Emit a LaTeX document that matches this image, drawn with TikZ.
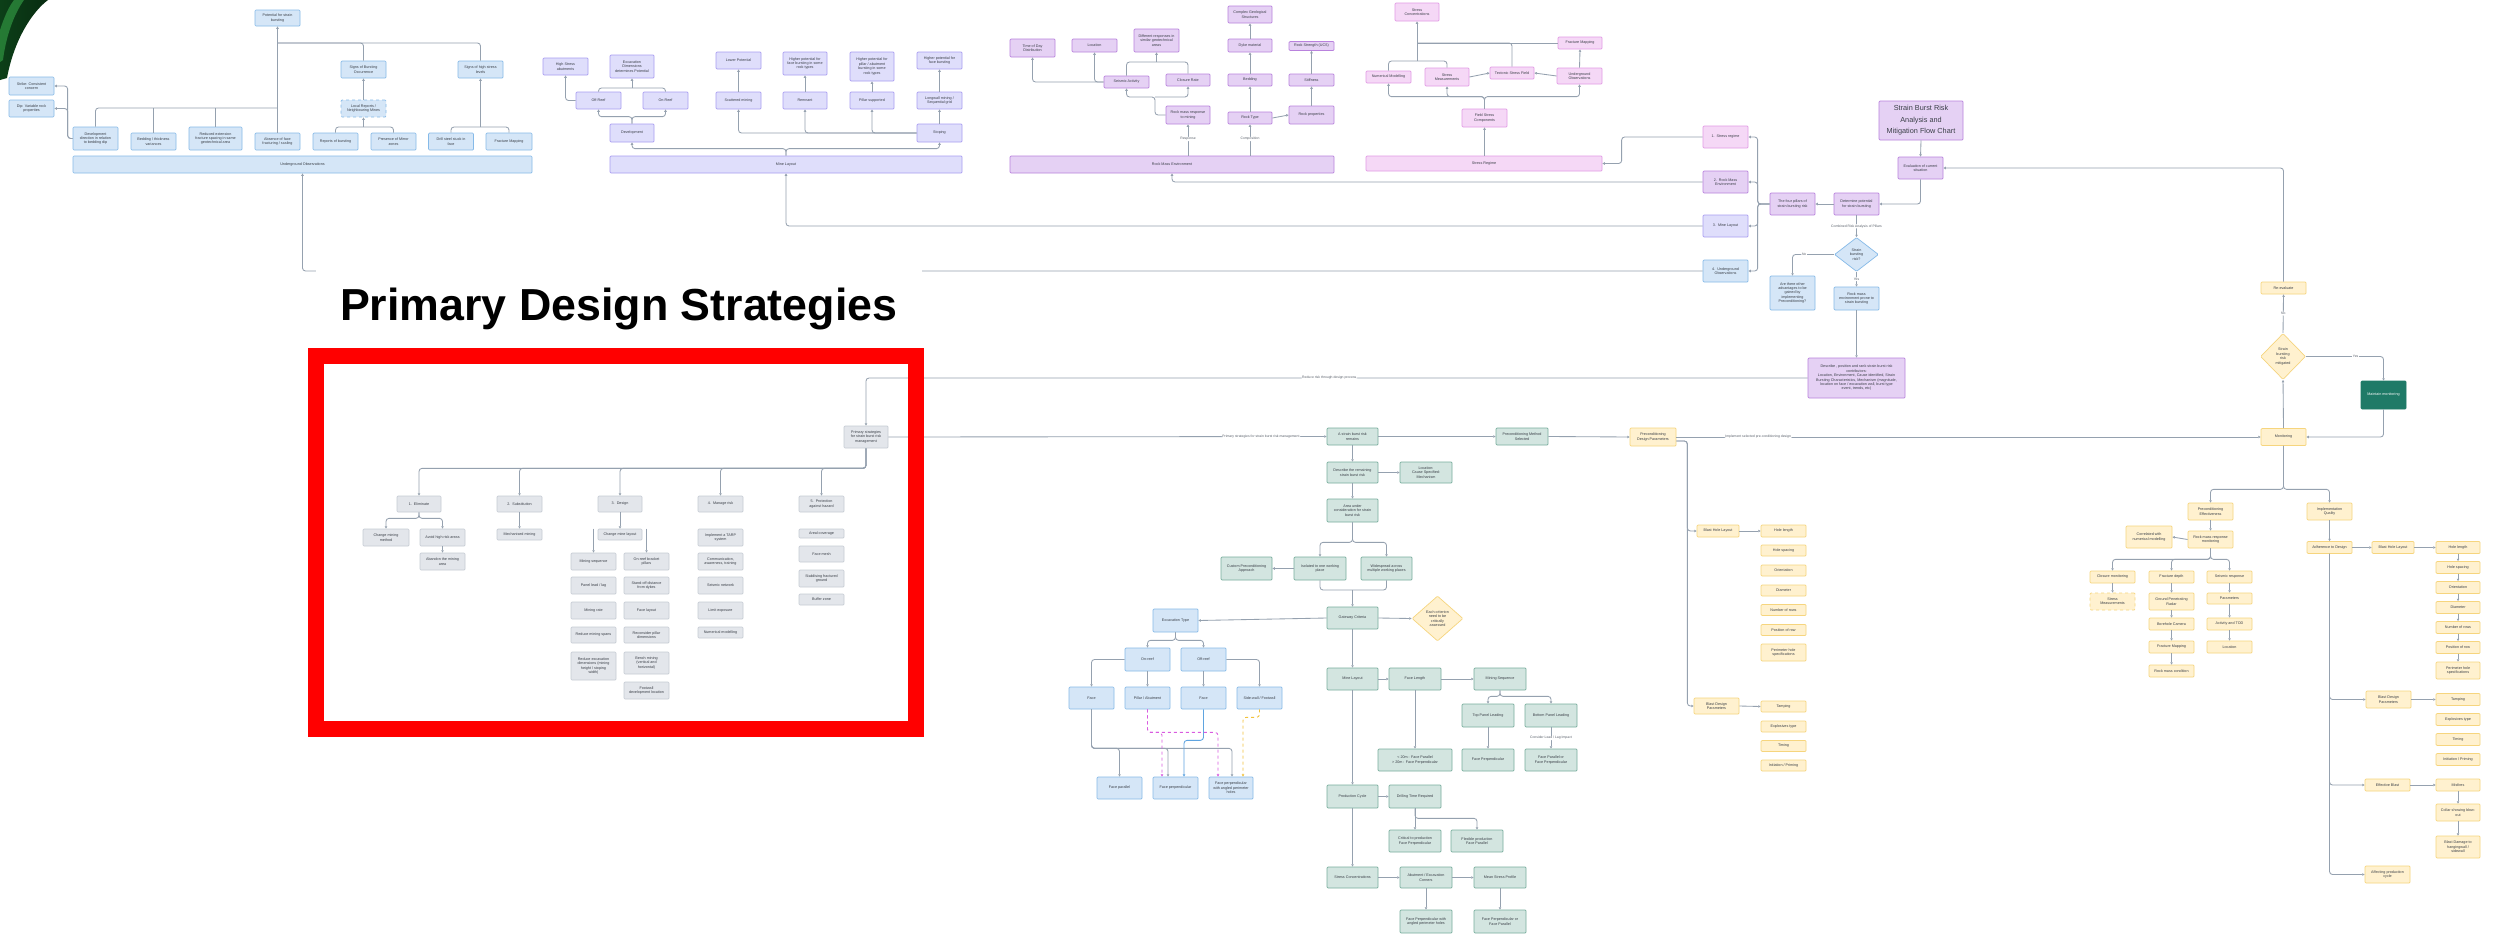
\documentclass[tikz,border=0pt]{standalone}
\usepackage{fontspec}
\setmainfont{Liberation Sans}
\usetikzlibrary{arrows.meta,shapes.geometric,calc}
\definecolor{lineC}{HTML}{95A1AF}
\definecolor{txtC}{HTML}{3A3F47}
\definecolor{lblC}{HTML}{5A616B}
\definecolor{bluF}{HTML}{D5E6F7}
\definecolor{bluD}{HTML}{86BAE8}
\definecolor{lavF}{HTML}{DFDEFB}
\definecolor{lavD}{HTML}{A99DF1}
\definecolor{purF}{HTML}{E5D1F4}
\definecolor{purD}{HTML}{B982DD}
\definecolor{pnkF}{HTML}{F5D8F6}
\definecolor{pnkD}{HTML}{E29BE5}
\definecolor{grnF}{HTML}{D3E5E0}
\definecolor{grnD}{HTML}{78AE9D}
\definecolor{ylwF}{HTML}{FFF1CF}
\definecolor{ylwD}{HTML}{F6D57E}
\definecolor{gryF}{HTML}{E3E6EB}
\definecolor{gryD}{HTML}{C6CCD4}
\definecolor{dkgrn}{HTML}{1F7A67}
\definecolor{leafD}{HTML}{0C3F18}
\definecolor{leafL}{HTML}{2C8A3C}
\definecolor{magC}{HTML}{D95BE0}
\definecolor{bluLine}{HTML}{5FA4E0}
\definecolor{ylwLine}{HTML}{F2C23C}
\newcommand\bxfont{\fontsize{3.7}{4.4}\selectfont}
\newcommand\lblfont{\fontsize{3.4}{4}\selectfont}
\begin{document}
\begin{tikzpicture}[x=1pt,y=-1pt,
  base/.style={draw, rounded corners=1pt, line width=0.7pt, align=center, inner sep=0.5pt, font=\bxfont, text=txtC},
  bx/.style n args={2}{base, minimum width=#1pt, minimum height=#2pt},
  dia/.style n args={2}{base, shape=diamond, minimum width=#1pt, minimum height=#2pt, inner sep=0pt},
  blu/.style={fill=bluF, draw=bluD},
  lav/.style={fill=lavF, draw=lavD},
  pur/.style={fill=purF, draw=purD},
  pnk/.style={fill=pnkF, draw=pnkD},
  grn/.style={fill=grnF, draw=grnD},
  ylw/.style={fill=ylwF, draw=ylwD},
  gry/.style={fill=gryF, draw=gryD},
  ln/.style={draw=lineC, line width=0.85pt, rounded corners=3pt},
  arr/.style={ln, -{Triangle[length=2.4pt,width=2.4pt]}},
  lbl/.style={font=\lblfont, fill=white, inner sep=0.6pt, text=lblC},
]
\useasboundingbox (0,0) rectangle (2494,937);
\fill[white] (0,0) rectangle (2494,937);

% corner leaf graphic
\shade[left color=leafD, right color=leafD!70!black] (0,0) -- (48,0) .. controls (32,12) and (14,40) .. (7,78) -- (0,80) -- cycle;
\fill[leafL, opacity=0.8] (14,0) -- (24,0) .. controls (14,14) and (6,36) .. (3,60) -- (0,62) -- (0,30) .. controls (4,18) and (8,8) .. (14,0) -- cycle;

% ---------------- Underground observations ----------------
\node[bx={45}{16},blu] (pot) at (277.5,18) {Potential for strain\\bursting};
\node[bx={45}{17},blu] (sbo) at (363.5,69.5) {Signs of Bursting\\Occurrence};
\node[bx={45}{17},blu] (shs) at (480.5,69.5) {Signs of high stress\\levels};
\node[bx={45}{17},blu,dashed] (lrn) at (363.5,108.5) {Local Reports /\\Neighbouring Mines};
\node[bx={45}{18},blu] (strike) at (31.5,86) {Strike: Consistent\\concern};
\node[bx={45}{17},blu] (dip) at (31.5,108.5) {Dip: Variable rock\\properties};
\node[bx={45}{23},blu] (devdir) at (95.5,138.5) {Development\\direction in relation\\to bedding dip};
\node[bx={45}{17},blu] (bedth) at (153.5,141.5) {Bedding / thickness\\variances};
\node[bx={53}{23},blu] (redext) at (215.5,138.5) {Reduced extension\\fracture spacing in same\\geotechnical area};
\node[bx={45}{17},blu] (absf) at (277.5,141.5) {Absence of face\\fracturing / scaling};
\node[bx={45}{17},blu] (repb) at (335.5,141.5) {Reports of bursting};
\node[bx={45}{17},blu] (mirr) at (393.5,141.5) {Presence of Mirror\\zones};
\node[bx={45}{17},blu] (dss) at (451,141.5) {Drill steel stuck in\\face};
\node[bx={46}{17},blu] (fmapA) at (509,141.5) {Fracture Mapping};
\node[bx={459}{17},blu] (uobs) at (302.5,164.5) {Underground Observations};

% ---------------- Mine layout ----------------
\node[bx={45}{17},lav] (hsa) at (565.5,66.5) {High Stress\\abutments};
\node[bx={44}{23},lav] (edp) at (632,66.5) {Excavation\\Dimensions\\determines Potential};
\node[bx={45}{17},lav] (offr) at (598.5,100.5) {Off-Reef};
\node[bx={45}{17},lav] (onr) at (665.5,100.5) {On-Reef};
\node[bx={44}{18},lav] (devB) at (632,133) {Development};
\node[bx={352}{17},lav] (ml) at (786,164.5) {Mine Layout};
\node[bx={45}{17},lav] (lp) at (738.5,60.5) {Lower Potential};
\node[bx={44}{23},lav] (hpf) at (805,63.5) {Higher potential for\\face bursting in some\\rock types};
\node[bx={44}{29},lav] (hpp) at (872,66.5) {Higher potential for\\pillar / abutment\\bursting in some\\rock types};
\node[bx={45}{17},lav] (hpfb) at (939.5,60.5) {Higher potential for\\face bursting};
\node[bx={45}{17},lav] (scat) at (738.5,100.5) {Scattered mining};
\node[bx={44}{17},lav] (remn) at (805,100.5) {Remnant};
\node[bx={44}{17},lav] (pill) at (872,100.5) {Pillar supported};
\node[bx={45}{17},lav] (lw) at (939.5,100.5) {Longwall mining /\\Sequential grid};
\node[bx={45}{18},lav] (stp) at (939.5,133) {Stoping};

% ---------------- Rock mass environment ----------------
\node[bx={45}{18},pur] (tod) at (1032.5,48) {Time of Day\\Distribution};
\node[bx={45}{13},pur] (locR) at (1094.5,45.5) {Location};
\node[bx={45}{23},pur] (difr) at (1156.5,40.5) {Different responses in\\similar geotechnical\\areas};
\node[bx={45}{12},pur] (seis) at (1126.5,82) {Seismic Activity};
\node[bx={44}{12},pur] (clos) at (1188,80) {Closure Rate};
\node[bx={44}{18},pur] (rmr) at (1188,115) {Rock mass response\\to mining};
\node[bx={324}{17},pur] (rme) at (1172,164.5) {Rock Mass Environment};
\node[bx={44}{17},pur] (cgs) at (1250,14.5) {Complex Geological\\Structures};
\node[bx={44}{13},pur] (dyke) at (1250,45.5) {Dyke material};
\node[bx={44}{12},pur] (bedd) at (1250,80) {Bedding};
\node[bx={44}{12},pur] (rtype) at (1250,118) {Rock Type};
\node[bx={45}{9},pur] (ucs) at (1311.5,46) {Rock Strength (UCS)};
\node[bx={45}{12},pur] (stiff) at (1311.5,80) {Stiffness};
\node[bx={45}{18},pur] (rprop) at (1311.5,115) {Rock properties};

% ---------------- Stress regime ----------------
\node[bx={44}{18},pnk] (scS) at (1417,12) {Stress\\Concentrations};
\node[bx={44}{12},pnk] (fmS) at (1580,43) {Fracture Mapping};
\node[bx={45}{12},pnk] (nmS) at (1388.5,77) {Numerical Modelling};
\node[bx={44}{18},pnk] (smS) at (1447,77) {Stress\\Measurements};
\node[bx={44}{12},pnk] (tsf) at (1512,73) {Tectonic Stress Field};
\node[bx={45}{16},pnk] (uoS) at (1579.5,76) {Underground\\Observations};
\node[bx={45}{18},pnk] (fsc) at (1484.5,118) {Field Stress\\Components};
\node[bx={236}{15},pnk] (sreg) at (1484,163.5) {Stress Regime};

% ---------------- Main flow ----------------
\node[bx={84}{39},pur,font=\fontsize{7.3}{11.5}\selectfont] (ttlbox) at (1921,120.5) {Strain Burst Risk\\Analysis and\\Mitigation Flow Chart};
\node[bx={45}{22},pur] (evl) at (1920.5,168) {Evaluation of current\\situation};
\node[bx={45}{22},pur] (det) at (1856.5,204) {Determine potential\\for strain bursting};
\node[bx={45}{22},pur] (fp) at (1792.5,204) {The four pillars of\\strain bursting risk};
\node[bx={45}{22},pnk] (p1) at (1725.5,137) {1.\ \ Stress regime};
\node[bx={45}{22},pur] (p2) at (1725.5,182) {2.\ \ Rock Mass\\Environment};
\node[bx={45}{22},lav] (p3) at (1725.5,226) {3.\ \ Mine Layout};
\node[bx={45}{22},blu] (p4) at (1725.5,271) {4.\ \ Underground\\Observations};
\node[dia={44}{34},blu] (dia1) at (1856.5,254.5) {Strain\\bursting\\risk?};
\node[bx={45}{34},blu] (adv) at (1792.5,293) {Are there other\\advantages to be\\gained by\\implementing\\Preconditioning?};
\node[bx={45}{23},blu] (prone) at (1856.5,298.5) {Rock mass\\environment prone to\\strain bursting};
\node[bx={97}{40},pur] (desc) at (1856.5,378) {Describe , position and rank strain burst risk\\contributors:\\Location, Environment, Cause identified, Strain\\Bursting Characteristics, Mechanism (magnitude,\\location on face / excavation wall, burst type\\event, trends, etc)};
\node[bx={45}{12},ylw] (reev) at (2283.5,288) {Re-evaluate};
\node[dia={45}{46},ylw] (dia2) at (2283,356.5) {Strain\\bursting\\risk\\mitigated};
\node[bx={45}{28},fill=dkgrn,draw=dkgrn,text=white] (mmon) at (2383.5,395) {Maintain monitoring};
\node[bx={45}{17},ylw] (mon) at (2283.5,437) {Monitoring};

% ---------------- Primary strategies ----------------
\node[bx={44}{22},gry] (pss) at (866,437) {Primary strategies\\for strain burst risk\\management};
\node[bx={44}{16},gry] (elim) at (419,504) {1.\ \ Eliminate};
\node[bx={45}{16},gry] (subs) at (519.5,504) {2.\ \ Substitution};
\node[bx={44}{16},gry] (desg) at (620,504) {3.\ \ Design};
\node[bx={45}{16},gry] (mgr) at (720.5,504) {4.\ \ Manage risk};
\node[bx={45}{16},gry] (prot) at (821.5,504) {5.\ \ Protection\\against hazard};
\node[bx={46}{17},gry] (cmm) at (386,537.5) {Change mining\\method};
\node[bx={45}{17},gry] (ahr) at (442.5,537.5) {Avoid high risk areas};
\node[bx={45}{17},gry] (atm) at (442.5,561.5) {Abandon the mining\\area};
\node[bx={45}{11},gry] (mech) at (519.5,534.5) {Mechanised mining};
\node[bx={44}{11},gry] (cml) at (620,534.5) {Change mine layout};
\node[bx={45}{17},gry] (msq) at (593.5,561.5) {Mining sequence};
\node[bx={45}{17},gry] (pll) at (593.5,585.5) {Panel lead / lag};
\node[bx={45}{17},gry] (mrate) at (593.5,610.5) {Mining rate};
\node[bx={45}{16},gry] (rms) at (593.5,635) {Reduce mining spans};
\node[bx={45}{28},gry] (rexd) at (593.5,666) {Reduce excavation\\dimensions (mining\\height / stoping\\width)};
\node[bx={45}{17},gry] (orbp) at (646.5,561.5) {On-reef bracket\\pillars};
\node[bx={45}{17},gry] (sod) at (646.5,585.5) {Stand-off distance\\from dykes};
\node[bx={45}{17},gry] (flay) at (646.5,610.5) {Face layout};
\node[bx={45}{16},gry] (rpd) at (646.5,635) {Reconsider pillar\\dimensions};
\node[bx={45}{22},gry] (bmin) at (646.5,663) {Bench mining\\(vertical and\\horizontal)};
\node[bx={45}{17},gry] (fdl) at (646.5,690.5) {Footwall\\development location};
\node[bx={45}{17},gry] (tarp) at (720.5,537.5) {Implement a TARP\\system};
\node[bx={45}{17},gry] (caw) at (720.5,561.5) {Communication,\\awareness, training};
\node[bx={45}{17},gry] (snet) at (720.5,585.5) {Seismic network};
\node[bx={45}{17},gry] (lexp) at (720.5,610.5) {Limit exposure};
\node[bx={45}{11},gry] (nmod) at (720.5,632.5) {Numerical modelling};
\node[bx={45}{9},gry] (arcov) at (821.5,533.5) {Areal coverage};
\node[bx={45}{16},gry] (fmesh) at (821.5,554) {Face mesh};
\node[bx={45}{17},gry] (sfg) at (821.5,578.5) {Stabilising fractured\\ground};
\node[bx={45}{11},gry] (bufz) at (821.5,599.5) {Buffer zone};

% ---------------- Residual risk assessment ----------------
\node[bx={51}{17},grn] (asb) at (1352.5,436.5) {A strain burst risk\\remains};
\node[bx={52}{17},grn] (pms) at (1522,436.5) {Preconditioning Method\\Selected};
\node[bx={46}{18},ylw] (pdp) at (1653,437) {Preconditioning\\Design Parameters};
\node[bx={51}{21},grn] (drs) at (1352.5,472.5) {Describe the remaining\\strain burst risk};
\node[bx={52}{21},grn] (lcm) at (1426,472.5) {Location:\\Cause Specified:\\Mechanism};
\node[bx={51}{23},grn] (auc) at (1352.5,510.5) {Area under\\consideration for strain\\burst risk};
\node[bx={52}{23},grn] (iso) at (1320,568.5) {Isolated to one working\\place};
\node[bx={51}{23},grn] (wide) at (1386.5,568.5) {Widespread across\\multiple working places};
\node[bx={51}{23},grn] (cust) at (1246.5,568.5) {Custom Preconditioning\\Approach};
\node[bx={51}{22},grn] (gc) at (1352.5,618) {Gateway Criteria};
\node[dia={51}{45},ylw] (ecd) at (1437.5,618.5) {Each criterion\\need to be\\critically\\assessed};
\node[bx={51}{22},grn] (mlG) at (1352.5,679) {Mine Layout};
\node[bx={52}{22},grn] (flen) at (1415,679) {Face Length};
\node[bx={52}{22},grn] (mseq) at (1500,679) {Mining Sequence};
\node[bx={52}{23},grn] (tpl) at (1488,715.5) {Top Panel Leading};
\node[bx={52}{23},grn] (bpl) at (1551,715.5) {Bottom Panel Leading};
\node[bx={74}{22},grn] (lt20) at (1415,760) {< 20m : Face Parallel\\> 20m : Face Perpendicular};
\node[bx={52}{22},grn] (fpp) at (1488,760) {Face Perpendicular};
\node[bx={52}{22},grn] (fpo) at (1551,760) {Face Parallel or\\Face Perpendicular};
\node[bx={51}{23},grn] (pcyc) at (1352.5,796.5) {Production Cycle};
\node[bx={52}{23},grn] (dtr) at (1415,796.5) {Drilling Time Required};
\node[bx={52}{22},grn] (cpf) at (1415,841) {Critical to production\\Face Perpendicular};
\node[bx={52}{22},grn] (fpf) at (1477,841) {Flexible production\\Face Parallel};
\node[bx={51}{21},grn] (scG) at (1352.5,877.5) {Stress Concentrations};
\node[bx={52}{21},grn] (aec) at (1426,877.5) {Abutment / Excavation\\Corners};
\node[bx={52}{21},grn] (msp) at (1500,877.5) {Mean Stress Profile};
\node[bx={52}{23},grn] (fpa) at (1426,921.5) {Face Perpendicular with\\angled perimeter holes};
\node[bx={52}{23},grn] (fpop) at (1500,921.5) {Face Perpendicular or\\Face Parallel};

% ---------------- Excavation type ----------------
\node[bx={45}{23},blu] (etyp) at (1175.5,620.5) {Excavation Type};
\node[bx={45}{23},blu] (onrf) at (1147.5,659.5) {On-reef};
\node[bx={45}{23},blu] (offrf) at (1203.5,659.5) {Off-reef};
\node[bx={45}{22},blu] (face1) at (1091.5,698) {Face};
\node[bx={45}{22},blu] (pabt) at (1147.5,698) {Pillar / Abutment};
\node[bx={45}{22},blu] (face2) at (1203.5,698) {Face};
\node[bx={45}{22},blu] (swf) at (1259.5,698) {Side-wall / Footwall};
\node[bx={45}{22},blu] (fpar) at (1119.5,788) {Face parallel};
\node[bx={45}{22},blu] (fperp) at (1175.5,788) {Face perpendicular};
\node[bx={44}{22},blu] (fang) at (1231,788) {Face perpendicular\\with angled perimeter\\holes};

% ---------------- Preconditioning design parameters ----------------
\node[bx={42}{12},ylw] (bhl) at (1718,531) {Blast Hole Layout};
\node[bx={45}{12},ylw] (hl1) at (1783.5,531) {Hole length};
\node[bx={45}{11},ylw] (hs1) at (1783.5,550.5) {Hole spacing};
\node[bx={45}{11},ylw] (or1) at (1783.5,570.5) {Orientation};
\node[bx={45}{11},ylw] (di1) at (1783.5,590.5) {Diameter};
\node[bx={45}{11},ylw] (nr1) at (1783.5,610) {Number of rows};
\node[bx={45}{11},ylw] (pr1) at (1783.5,630) {Position of row};
\node[bx={45}{17},ylw] (ph1) at (1783.5,652.5) {Perimeter hole\\specifications};
\node[bx={45}{16},ylw] (bdp) at (1716.5,706) {Blast Design\\Parameters};
\node[bx={45}{11},ylw] (tp1) at (1783.5,706.5) {Tamping};
\node[bx={45}{11},ylw] (ex1) at (1783.5,726.5) {Explosives type};
\node[bx={45}{11},ylw] (ti1) at (1783.5,746) {Timing};
\node[bx={45}{11},ylw] (ip1) at (1783.5,765.5) {Initiation / Priming};

% ---------------- Monitoring ----------------
\node[bx={45}{17},ylw] (peff) at (2210.5,511.5) {Preconditioning\\Effectiveness};
\node[bx={45}{17},ylw] (iqual) at (2329.5,511.5) {Implementation\\Quality};
\node[bx={45}{17},ylw] (rmrm) at (2210.5,539.5) {Rock mass response\\monitoring};
\node[bx={46}{22},ylw] (cnm) at (2149,537) {Correlated with\\numerical modelling};
\node[bx={45}{12},ylw] (clm) at (2112.5,577) {Closure monitoring};
\node[bx={45}{12},ylw] (frd) at (2171.5,577) {Fracture depth};
\node[bx={45}{12},ylw] (sres) at (2229.5,577) {Seismic response};
\node[bx={45}{17},ylw,dashed] (smD) at (2112.5,601.5) {Stress\\Measurements};
\node[bx={45}{17},ylw] (gpr) at (2171.5,601.5) {Ground Penetrating\\Radar};
\node[bx={45}{11},ylw] (parm) at (2229.5,598.5) {Parameters};
\node[bx={45}{12},ylw] (bcam) at (2171.5,624) {Borehole Camera};
\node[bx={45}{12},ylw] (atod) at (2229.5,624) {Activity and TOD};
\node[bx={45}{12},ylw] (fmY) at (2171.5,647) {Fracture Mapping};
\node[bx={45}{12},ylw] (locY) at (2229.5,647) {Location};
\node[bx={45}{12},ylw] (rmc) at (2171.5,671) {Rock mass condition};
\node[bx={45}{12},ylw] (atd) at (2329.5,547.5) {Adherence to Design};
\node[bx={42}{12},ylw] (bhl2) at (2393,547.5) {Blast Hole Layout};
\node[bx={44}{12},ylw] (hl2) at (2458,547.5) {Hole length};
\node[bx={44}{12},ylw] (hs2) at (2458,567.5) {Hole spacing};
\node[bx={44}{12},ylw] (or2) at (2458,587.5) {Orientation};
\node[bx={44}{12},ylw] (di2) at (2458,607.5) {Diameter};
\node[bx={44}{12},ylw] (nr2) at (2458,627.5) {Number of rows};
\node[bx={44}{12},ylw] (pr2) at (2458,647.5) {Position of row};
\node[bx={44}{17},ylw] (ph2) at (2458,670.5) {Perimeter hole\\specifications};
\node[bx={45}{17},ylw] (bdp2) at (2388.5,699.5) {Blast Design\\Parameters};
\node[bx={44}{12},ylw] (tp2) at (2458,699.5) {Tamping};
\node[bx={44}{12},ylw] (ex2) at (2458,719.5) {Explosives type};
\node[bx={44}{12},ylw] (ti2) at (2458,739.5) {Timing};
\node[bx={44}{12},ylw] (ip2) at (2458,759.5) {Initiation / Priming};
\node[bx={45}{12},ylw] (eblast) at (2387.5,785) {Effective Blast};
\node[bx={44}{12},ylw] (misf) at (2458,785) {Misfires};
\node[bx={44}{17},ylw] (csb) at (2458,812.5) {Collar showing blow-\\out};
\node[bx={44}{22},ylw] (bdh) at (2458,847) {Blast Damage to\\hangingwall /\\sidewall};
\node[bx={45}{17},ylw] (apc) at (2387.5,874.5) {Affecting production\\cycle};

% ================= connectors =================
% underground observations
\draw[arr] (absf.north) -- (pot.south);
\coordinate (busA) at (277.5,108);
\draw[ln] (devdir.north) |- (busA);
\draw[ln] (bedth.north) -- (bedth.north |- busA);
\draw[ln] (redext.north) -- (redext.north |- busA);
\coordinate (busT) at (277.5,43);
\draw[ln] (sbo.north) |- (busT);
\draw[ln] (shs.north) |- (busT);
\draw[arr] (lrn.north) -- (sbo.south);
\coordinate (brkR) at (363.5,127);
\draw[ln] (repb.north) |- (brkR) -| (mirr.north);
\draw[arr] (brkR) -- (lrn.south);
\coordinate (brkH) at (480.5,127);
\draw[ln] (dss.north) |- (brkH) -| (fmapA.north);
\draw[arr] (brkH) -- (shs.south);
\draw[arr] (devdir.west) -- ++(-5,0) |- (strike.east);
\draw[arr] (devdir.west) -- ++(-5,0) |- (dip.east);

% mine layout
\draw[arr] (ml.north) -- ++(0,-7) -| (devB.south);
\draw[arr] (ml.north) -- ++(0,-7) -| (stp.south);
\draw[arr] (stp.west) -| (scat.south);
\draw[arr] (stp.west) -| (remn.south);
\draw[arr] (stp.west) -| (pill.south);
\draw[arr] (scat.north) -- (lp.south);
\draw[arr] (remn.north) -- (hpf.south);
\draw[arr] (pill.north) -- (hpp.south);
\draw[arr] (stp.north) -- (lw.south);
\draw[arr] (lw.north) -- (hpfb.south);
\draw[arr] (devB.north) -- ++(0,-7) -| (offr.south);
\draw[arr] (devB.north) -- ++(0,-7) -| (onr.south);
\coordinate (brkE) at (632,88);
\draw[ln] (offr.north) |- (brkE) -| (onr.north);
\draw[arr] (brkE) -- (edp.south);
\draw[arr] (offr.west) -| (hsa.south);

% rock mass environment
\draw[arr] (rmr.south |- rme.north) -- node[lbl,pos=0.53]{Response} (rmr.south);
\draw[arr] (rtype.south |- rme.north) -- node[lbl,pos=0.53]{Composition} (rtype.south);
\coordinate (brkC) at (1155,97);
\draw[arr] (rmr.west) -| (brkC) -| (seis.south);
\draw[arr] (brkC) -| (clos.south);
\coordinate (brkD) at (1156.5,62);
\draw[ln] (seis.north) |- (brkD) -| (clos.north);
\draw[arr] (brkD) -- (difr.south);
\draw[arr] (seis.west) -| (tod.south);
\draw[arr] (seis.west) -| (locR.south);
\draw[arr] (rtype.north) -- (bedd.south);
\draw[arr] (bedd.north) -- (dyke.south);
\draw[arr] (dyke.north) -- (cgs.south);
\draw[arr] (rtype.east) -- (rprop.west);
\draw[arr] (rprop.north) -- (stiff.south);
\draw[arr] (stiff.north) -- (ucs.south);

% stress regime
\draw[arr] (sreg.north -| fsc.south) -- (fsc.south);
\draw[arr] (fsc.north) -- ++(0,-12) -| (nmS.south);
\draw[arr] (fsc.north) -- ++(0,-12) -| (smS.south);
\draw[arr] (fsc.north) -- ++(0,-12) -| (uoS.south);
\draw[arr] (smS.east) -- (tsf.west);
\draw[arr] (uoS.west) -- (tsf.east);
\draw[arr] (uoS.north) -- (fmS.south);
\coordinate (brkSC) at (1417,61);
\coordinate (jSC) at (1417,43);
\draw[ln] (nmS.north) |- (brkSC) -| (smS.north);
\draw[arr] (brkSC) -- (scS.south);
\draw[ln] (tsf.north) |- (jSC);
\draw[ln] (fmS.west) -- (jSC);

% main flow
\draw[arr] (ttlbox.south) -- (evl.north);
\draw[arr] (evl.south) |- (det.east);
\draw[arr] (det.west) -- (fp.east);
\foreach \p in {p1,p2,p3,p4} \draw[arr] (fp.west) -- ++(-12,0) |- (\p.east);
\draw[arr] (det.south) -- node[lbl]{Combined Risk Analysis of Pillars} (dia1.north);
\draw[arr] (dia1.west) -| node[lbl,pos=0.36]{No} (adv.north);
\draw[arr] (dia1.south) -- node[lbl]{Yes} (prone.north);
\draw[arr] (prone.south) -- (desc.north);
\draw[arr] (desc.west) -| node[lbl,pos=0.254]{Reduce risk through design process} (pss.north);
\draw[arr] (p1.west) -- ++(-81,0) |- (sreg.east);
\draw[arr] (p2.west) -| (rme.south);
\draw[arr] (p3.west) -| (ml.south);
\draw[arr] (p4.west) -| (uobs.south);
\draw[arr] (reev.north) |- (evl.east);
\draw[arr] (dia2.north) -- node[lbl]{No} (reev.south);
\draw[arr] (dia2.east) -| node[lbl,pos=0.32]{Yes} (mmon.north);
\draw[arr] (mmon.south) |- (mon.east);
\draw[arr] (mon.north) -- (dia2.south);

% primary strategies
\foreach \q in {elim,subs,desg,mgr,prot} \draw[arr] (pss.south) -- ++(0,20) -| (\q.north);
\draw[arr] (elim.south) -- ++(0,6) -| (cmm.north);
\draw[arr] (elim.south) -- ++(0,6) -| (ahr.north);
\draw[arr] (ahr.south) -- (atm.north);
\draw[arr] (subs.south) -- (mech.north);
\draw[arr] (desg.south) -- (cml.north);
\draw[arr] (msq.north |- cml.north) -- (msq.north);
\draw[arr] (orbp.north |- cml.north) -- (orbp.north);

% residual risk
\draw[arr] (pss.east) -- node[lbl,pos=0.85]{Primary strategies for strain burst risk management} (asb.west);
\draw[arr] (asb.east) -- (pms.west);
\draw[arr] (pms.east) -- (pdp.west);
\draw[arr] (pdp.east) -- node[lbl,pos=0.14]{Implement selected pre-conditioning design} (mon.west);
\draw[arr] (asb.south) -- (drs.north);
\draw[arr] (drs.east) -- (lcm.west);
\draw[arr] (drs.south) -- (auc.north);
\draw[arr] (auc.south) -- ++(0,20) -| (iso.north);
\draw[arr] (auc.south) -- ++(0,20) -| (wide.north);
\draw[arr] (iso.west) -- (cust.east);
\coordinate (brkG) at (1352.5,590);
\draw[ln] (iso.south) |- (brkG) -| (wide.south);
\draw[arr] (brkG) -- (gc.north);
\draw[arr] (gc.east) -- (ecd.west);
\draw[arr] (gc.west) -- (etyp.east);
\draw[arr] (gc.south) -- (mlG.north);
\draw[arr] (mlG.east) -- (flen.west);
\draw[arr] (flen.east) -- (mseq.west);
\draw[arr] (flen.south) -- (lt20.north);
\draw[arr] (mseq.south) -- ++(0,6) -| (tpl.north);
\draw[arr] (mseq.south) -- ++(0,6) -| (bpl.north);
\draw[arr] (tpl.south) -- (fpp.north);
\draw[arr] (bpl.south) -- node[lbl]{Consider Lead / Lag Impact} (fpo.north);
\draw[arr] (mlG.south) -- (pcyc.north);
\draw[arr] (pcyc.east) -- (dtr.west);
\draw[arr] (dtr.south) -- ++(0,10) -| (cpf.north);
\draw[arr] (dtr.south) -- ++(0,10) -| (fpf.north);
\draw[arr] (pcyc.south) -- (scG.north);
\draw[arr] (scG.east) -- (aec.west);
\draw[arr] (aec.east) -- (msp.west);
\draw[arr] (aec.south) -- (fpa.north);
\draw[arr] (msp.south) -- (fpop.north);

% excavation type
\draw[arr] (etyp.south) -- ++(0,8) -| (onrf.north);
\draw[arr] (etyp.south) -- ++(0,8) -| (offrf.north);
\draw[arr] (onrf.west) -| (face1.north);
\draw[arr] (onrf.south) -- (pabt.north);
\draw[arr] (offrf.south) -- (face2.north);
\draw[arr] (offrf.east) -| (swf.north);
\draw[arr] (face1.south) -- ++(0,39) -| (fpar.north);
\draw[arr] (face1.south) -- ++(0,39) -| ([xshift=-7.5pt]fperp.north);
\draw[arr] (face1.south) -- ++(0,39) -| ([xshift=1pt]fang.north);
\draw[arr,draw=magC,dashed] (pabt.south) -- ++(0,23) -| ([xshift=-13pt]fang.north);
\draw[arr,draw=magC,dashed] (pabt.south) -- ++(0,23) -| ([xshift=-13.5pt]fperp.north);
\draw[arr,draw=bluLine] (face2.south) -- ++(0,31) -| ([xshift=8.5pt]fperp.north);
\draw[arr,draw=ylwLine,dashed] (swf.south) -- ++(0,8) -| ([xshift=12pt]fang.north);

% design parameters
\draw[arr] ([yshift=-4pt]pdp.east) -- ++(11,0) |- (bhl.west);
\draw[arr] ([yshift=-4pt]pdp.east) -- ++(11,0) |- (bdp.west);
\draw[arr] (bhl.east) -- (hl1.west);
\draw[arr] (bdp.east) -- (tp1.west);

% monitoring
\draw[arr] (mon.south) -- ++(0,43.5) -| (peff.north);
\draw[arr] (mon.south) -- ++(0,43.5) -| (iqual.north);
\draw[arr] (peff.south) -- (rmrm.north);
\draw[arr] (rmrm.west) -- (cnm.east);
\foreach \q in {clm,frd,sres} \draw[arr] (rmrm.south) -- ++(0,11) -| (\q.north);
\draw[arr] (clm.south) -- (smD.north);
\draw[arr] (frd.south) -- (gpr.north);
\draw[arr] (gpr.south) -- (bcam.north);
\draw[arr] (bcam.south) -- (fmY.north);
\draw[arr] (fmY.south) -- (rmc.north);
\draw[arr] (sres.south) -- (parm.north);
\draw[arr] (parm.south) -- (atod.north);
\draw[arr] (atod.south) -- (locY.north);
\draw[arr] (iqual.south) -- (atd.north);
\draw[arr] (atd.east) -- (bhl2.west);
\draw[arr] (bhl2.east) -- (hl2.west);
\draw[arr] (hl2.south) -- (hs2.north);
\draw[arr] (hs2.south) -- (or2.north);
\draw[arr] (or2.south) -- (di2.north);
\draw[arr] (di2.south) -- (nr2.north);
\draw[arr] (nr2.south) -- (pr2.north);
\draw[arr] (pr2.south) -- (ph2.north);
\draw[arr] (atd.south) |- (bdp2.west);
\draw[arr] (atd.south) |- (eblast.west);
\draw[arr] (atd.south) |- (apc.west);
\draw[arr] (bdp2.east) -- (tp2.west);
\draw[arr] (eblast.east) -- (misf.west);
\draw[arr] (misf.south) -- (csb.north);
\draw[arr] (csb.south) -- (bdh.north);

% heading and frame
\node[fill=white, minimum width=606pt, minimum height=80pt, inner sep=0pt] (heading) at (618.75,309)
  {\resizebox*{557pt}{42pt}{\bfseries Primary Design Strategies}};
\draw[draw=red, line width=16pt] (316,356) rectangle (916,728.5);
\end{tikzpicture}
\end{document}
